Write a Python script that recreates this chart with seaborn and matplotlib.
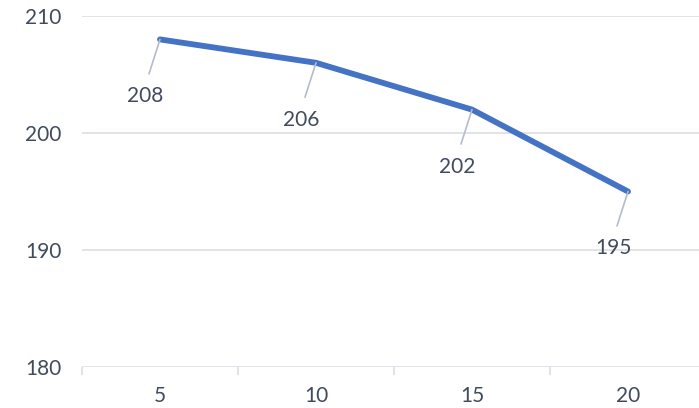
import matplotlib
matplotlib.use("Agg")
import matplotlib.pyplot as plt
import seaborn as sns
import numpy as np
import pandas as pd

categories = ["5", "10", "15", "20"]
values = [208, 206, 202, 195]

sns.set_theme(style="white")
plt.rcParams["font.family"] = ["Lato", "DejaVu Sans"]

text_color = "#404b5e"
grid_color = "#dde1e8"
line_color = "#4472c4"

df = pd.DataFrame({"pos": np.arange(len(categories)), "value": values})

fig = plt.figure(figsize=(6.99, 4.08), dpi=100)
ax = fig.add_axes([82 / 699, 41 / 408, 624 / 699, 351 / 408])

sns.lineplot(data=df, x="pos", y="value", ax=ax, color=line_color,
             linewidth=4.2, solid_capstyle="round", solid_joinstyle="round")

ax.set_xlim(-0.5, len(categories) - 0.5)
ax.set_ylim(180, 210)
ax.set_yticks([180, 190, 200, 210])
ax.set_xticks(np.arange(len(categories)))
ax.set_xticklabels(categories)
ax.set_xticks(np.arange(len(categories) + 1) - 0.5, minor=True)
ax.set_xlabel("")
ax.set_ylabel("")

for s in ax.spines.values():
    s.set_visible(False)
ax.grid(False)
for yv in [180, 190, 200, 210]:
    ax.axhline(yv, color=grid_color, linewidth=1.3, zorder=0)

fs = 15
ax.tick_params(axis="y", length=0, pad=15, labelsize=fs, labelcolor=text_color)
ax.tick_params(axis="x", which="major", length=0, pad=14, labelsize=fs,
               labelcolor=text_color)
ax.tick_params(axis="x", which="minor", length=6, width=1.3, color=grid_color,
               direction="out", bottom=True)

for i, v in enumerate(values):
    ax.annotate(str(v), xy=(i, v), xytext=(-15, -57), textcoords="offset pixels",
                ha="center", va="center", fontsize=fs, color=text_color,
                arrowprops=dict(arrowstyle="-", color="#b4bccb", linewidth=1.2,
                                relpos=(0.5, 1.0), shrinkA=7, shrinkB=0))

fig.savefig("out.png", dpi=100)
